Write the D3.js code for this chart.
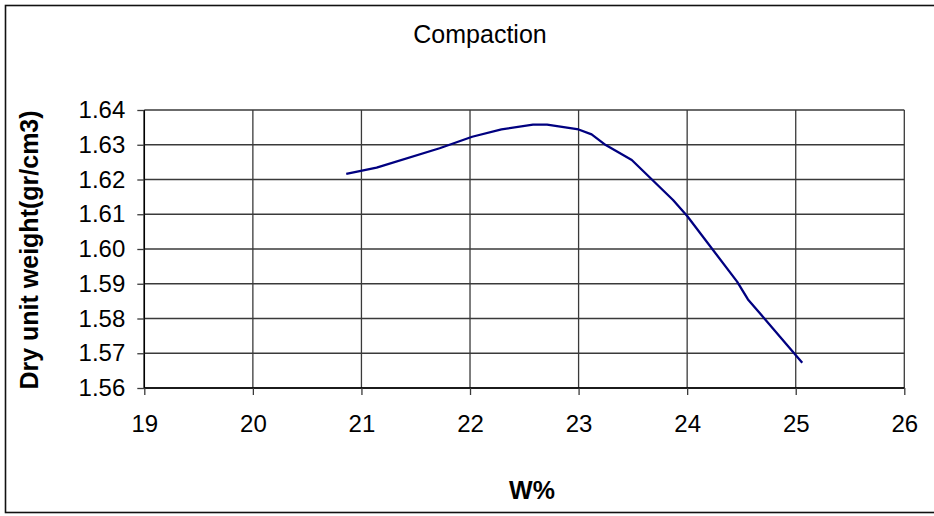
<!DOCTYPE html>
<html>
<head>
<meta charset="utf-8">
<script src="https://cdn.jsdelivr.net/npm/d3@7"></script>
<style>
html, body { margin: 0; padding: 0; background: #fff; }
svg { display: block; font-family: "Liberation Sans", Arial, sans-serif; }
</style>
</head>
<body>
<svg id="chart" width="934" height="516"></svg>
<script>
// water content (%) and dry unit weight (gr/cm3)
var waterContent = [20.86, 21.14, 21.72, 22.02, 22.29, 22.58, 22.71, 23.00, 23.12, 23.25, 23.49, 23.87, 24.00, 24.46, 24.56, 25.06];
var dryWeight    = [1.6216, 1.6234, 1.6290, 1.6323, 1.6344, 1.6358, 1.6358, 1.6344, 1.6330, 1.6299, 1.6256, 1.6141, 1.6095, 1.5906, 1.5855, 1.5673];
var xTicks = [19, 20, 21, 22, 23, 24, 25, 26];
var yTicks = [1.56, 1.57, 1.58, 1.59, 1.60, 1.61, 1.62, 1.63, 1.64];

var svg = d3.select("#chart");
var plot = { left: 144.3, top: 110, right: 904.3, bottom: 388 };

var x = d3.scaleLinear().domain([19, 26]).range([plot.left, plot.right]);
var y = d3.scaleLinear().domain([1.56, 1.64]).range([plot.bottom, plot.top]);

// outer frame (right side runs off the window)
svg.append("rect").attr("x", 5.5).attr("y", 5.5).attr("width", 940).attr("height", 507)
	.attr("fill", "none").attr("stroke", "#111").attr("stroke-width", 1.6);

// grid
var grid = svg.append("g").attr("class", "grid");
grid.selectAll(".hgrid").data(yTicks).enter().append("line")
	.attr("x1", plot.left).attr("x2", plot.right)
	.attr("y1", function(d){ return y(d); }).attr("y2", function(d){ return y(d); })
	.attr("stroke", "#3a3a3a").attr("stroke-width", 1.3);
grid.selectAll(".vgrid").data(xTicks).enter().append("line")
	.attr("y1", plot.top).attr("y2", plot.bottom)
	.attr("x1", function(d){ return x(d); }).attr("x2", function(d){ return x(d); })
	.attr("stroke", "#3a3a3a").attr("stroke-width", 1.3);

// axes
var xAxis = d3.axisBottom(x).tickValues(xTicks).tickSize(7).tickPadding(20)
	.tickFormat(d3.format("d"));
var yAxis = d3.axisLeft(y).tickValues(yTicks).tickSize(7).tickPadding(12)
	.tickFormat(d3.format(".2f"));

var gx = svg.append("g").attr("transform", "translate(0," + plot.bottom + ")").call(xAxis);
var gy = svg.append("g").attr("transform", "translate(" + plot.left + ",0)").call(yAxis);

[gx, gy].forEach(function(g){
	g.select(".domain").attr("stroke", "#000").attr("stroke-width", 1.5);
	g.selectAll(".tick line").attr("stroke", "#3a3a3a").attr("stroke-width", 1.3);
	g.selectAll(".tick text").attr("fill", "#000").attr("font-size", 24)
		.attr("font-family", "Liberation Sans, Arial, sans-serif");
});
gy.select(".domain").attr("d", "M0," + plot.top + "V" + plot.bottom);
gx.select(".domain").attr("d", "M" + plot.left + ",0H" + plot.right);

// curve
var line = d3.line()
	.x(function(d, i){ return x(waterContent[i]); })
	.y(function(d){ return y(d); });
svg.append("path").datum(dryWeight)
	.attr("d", line)
	.attr("fill", "none")
	.attr("stroke", "#000080")
	.attr("stroke-width", 2.3)
	.attr("stroke-linejoin", "round");

// titles
svg.append("text").attr("x", 480).attr("y", 43).attr("text-anchor", "middle")
	.attr("font-size", 25).attr("fill", "#000").text("Compaction");
svg.append("text").attr("x", 532).attr("y", 499).attr("text-anchor", "middle")
	.attr("font-size", 25).attr("font-weight", "bold").attr("fill", "#000").text("W%");
svg.append("text").attr("transform", "translate(38,250) rotate(-90)")
	.attr("text-anchor", "middle").attr("font-size", 25).attr("font-weight", "bold")
	.attr("fill", "#000").text("Dry unit weight(gr/cm3)");
</script>
</body>
</html>
